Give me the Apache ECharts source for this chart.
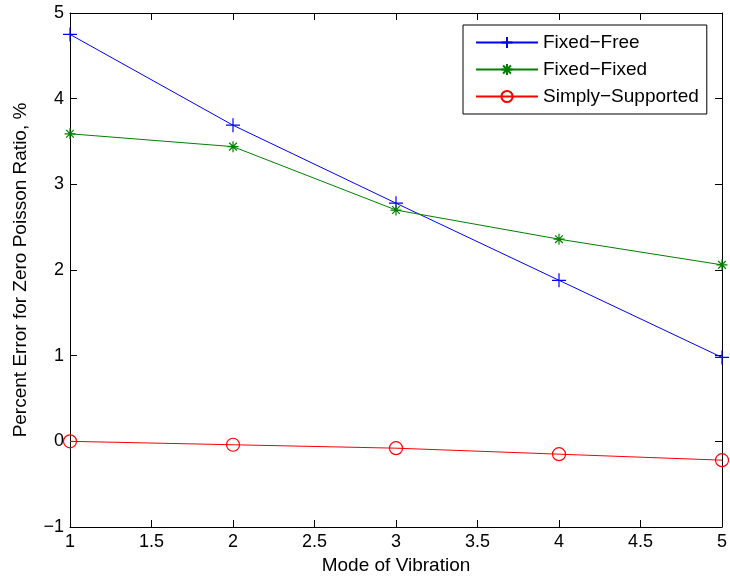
<!DOCTYPE html>
<html>
<head>
<meta charset="utf-8">
<script src="https://cdn.jsdelivr.net/npm/echarts@6/dist/echarts.min.js"></script>
<style>
  html, body { margin: 0; padding: 0; background: #fff; }
  #chart { width: 730px; height: 581px; }
</style>
</head>
<body>
<div id="chart"></div>
<script>
// data
const modes = [1, 2, 3, 4, 5];
const fixedFree = [4.75, 3.69, 2.78, 1.88, 0.98];
const fixedFixed = [3.59, 3.44, 2.70, 2.36, 2.06];
const simplySupported = [0.0, -0.04, -0.08, -0.15, -0.22];

const seriesNames = ["Fixed\u2212Free", "Fixed\u2212Fixed", "Simply\u2212Supported"];
const FONT = "Liberation Sans, Arial, Helvetica, sans-serif";

const pairs = (ys) => modes.map((x, i) => [x, ys[i]]);
const fmt = (v) => String(v).replace("-", "\u2212");

// marker shapes (matlab-ish)
const plusPath = "path://M0,5L10,5M5,0L5,10";
const starPath = "path://M0,5L10,5M5,0L5,10M1.5,1.5L8.5,8.5M1.5,8.5L8.5,1.5";

const chart = echarts.init(document.getElementById("chart"));

const baseX = {
  type: "value",
  min: 1,
  max: 5,
  interval: 0.5,
  splitLine: { show: false },
  axisLine: { show: true, onZero: false, lineStyle: { color: "#000", width: 1 } },
  axisTick: { show: true, inside: true, length: 7, lineStyle: { color: "#000" } },
};
const baseY = {
  type: "value",
  min: -1,
  max: 5,
  interval: 1,
  splitLine: { show: false },
  axisLine: { show: true, onZero: false, lineStyle: { color: "#000", width: 1 } },
  axisTick: { show: true, inside: true, length: 7, lineStyle: { color: "#000" } },
};

const option = {
  animation: false,
  backgroundColor: "#fff",
  textStyle: { fontFamily: FONT },
  grid: { left: 70, right: 5, top: 13, bottom: 54 },
  legend: {
    orient: "vertical",
    left: 463,
    top: 25,
    padding: [8, 8, 8, 12],
    itemGap: 8,
    itemWidth: 62,
    itemHeight: 14,
    borderColor: "#000",
    borderWidth: 1,
    backgroundColor: "#fff",
    textStyle: { fontFamily: FONT, fontSize: 19, color: "#000" },
    data: seriesNames,
  },
  xAxis: [
    Object.assign({}, baseX, {
      position: "bottom",
      name: "Mode of Vibration",
      nameLocation: "middle",
      nameGap: 29,
      nameTextStyle: { fontFamily: FONT, fontSize: 19, color: "#000" },
      axisLabel: { fontFamily: FONT, fontSize: 18, color: "#000", margin: 6, formatter: fmt },
    }),
    Object.assign({}, baseX, { position: "top", axisLabel: { show: false } }),
  ],
  yAxis: [
    Object.assign({}, baseY, {
      position: "left",
      name: "Percent Error for Zero Poisson Ratio, %",
      nameLocation: "middle",
      nameGap: 40,
      nameTextStyle: { fontFamily: FONT, fontSize: 19, color: "#000" },
      axisLabel: { fontFamily: FONT, fontSize: 18, color: "#000", margin: 6, formatter: fmt },
    }),
    Object.assign({}, baseY, { position: "right", axisLabel: { show: false } }),
  ],
  series: [
    {
      name: seriesNames[0],
      type: "line",
      data: pairs(fixedFree),
      symbol: plusPath,
      symbolSize: 14,
      lineStyle: { color: "#0000ff", width: 1 },
      itemStyle: { color: "#0000ff", borderColor: "#0000ff", borderWidth: 1.2 },
      emphasis: { disabled: true },
    },
    {
      name: seriesNames[1],
      type: "line",
      data: pairs(fixedFixed),
      symbol: starPath,
      symbolSize: 11,
      lineStyle: { color: "#008000", width: 1 },
      itemStyle: { color: "#008000", borderColor: "#008000", borderWidth: 1.2 },
      emphasis: { disabled: true },
    },
    {
      name: seriesNames[2],
      type: "line",
      data: pairs(simplySupported),
      symbol: "circle",
      symbolSize: 13,
      lineStyle: { color: "#ff0000", width: 1 },
      itemStyle: { color: "rgba(0,0,0,0)", borderColor: "#ff0000", borderWidth: 1.2 },
      emphasis: { disabled: true },
    },
  ],
};

chart.setOption(option);
</script>
</body>
</html>
